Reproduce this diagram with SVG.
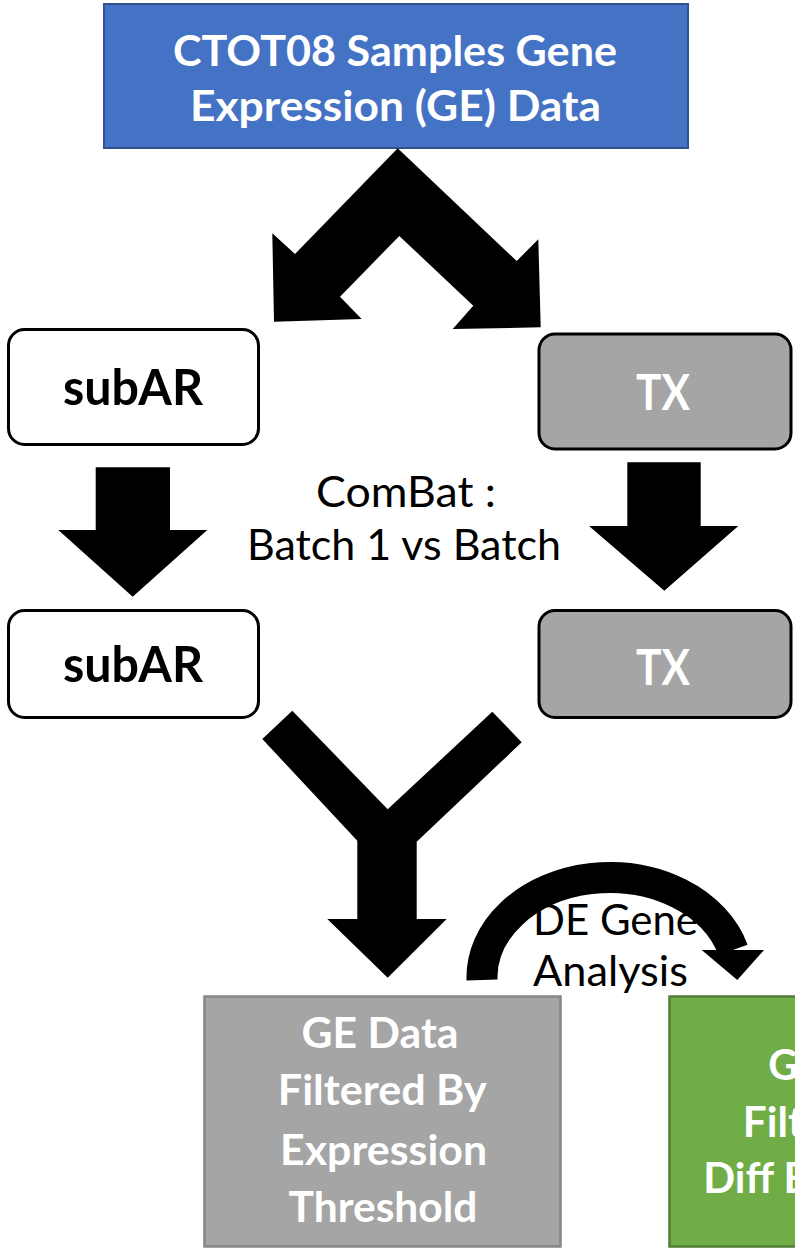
<svg xmlns="http://www.w3.org/2000/svg" width="795" height="1249" viewBox="0 0 795 1249">
  <style>
    .bold { font-family: Lato, "Open Sans", "Liberation Sans", sans-serif; font-weight: bold; }
    .reg { font-family: Lato, "Open Sans", "Liberation Sans", sans-serif; font-weight: normal; fill: #000; }
    .big { font-size: 42px; }
    .mid { font-size: 49px; }
    .txt { font-size: 43px; }
    .white { fill: #fff; }
    .black { fill: #000; }
    .rounded { stroke: #000; stroke-width: 3; }
    .grey { fill: #A5A5A5; }
    .arrow { fill: #000; }
  </style>

  <!-- source data -->
  <g id="node-source">
    <rect x="104" y="4" width="584" height="144" fill="#4472C4" stroke="#2F528F" stroke-width="2"/>
    <text class="bold big white" x="395" y="66" text-anchor="middle" textLength="444" lengthAdjust="spacingAndGlyphs">CTOT08 Samples Gene</text>
    <text class="bold big white" x="395.5" y="121" text-anchor="middle" textLength="411" lengthAdjust="spacingAndGlyphs">Expression (GE) Data</text>
  </g>

  <!-- cohorts before batch correction -->
  <g id="node-subar-1">
    <rect class="rounded" x="8.5" y="329.5" width="250" height="115" rx="16" fill="#fff"/>
    <text class="bold mid black" x="133" y="405" text-anchor="middle" textLength="140" lengthAdjust="spacingAndGlyphs">subAR</text>
  </g>
  <g id="node-tx-1">
    <rect class="rounded grey" x="539" y="334" width="252" height="115" rx="16"/>
    <text class="bold mid white" x="663" y="410" text-anchor="middle" textLength="54" lengthAdjust="spacingAndGlyphs">TX</text>
  </g>

  <!-- cohorts after batch correction -->
  <g id="node-subar-2">
    <rect class="rounded" x="8.5" y="610.5" width="250" height="107" rx="16" fill="#fff"/>
    <text class="bold mid black" x="133" y="682" text-anchor="middle" textLength="140" lengthAdjust="spacingAndGlyphs">subAR</text>
  </g>
  <g id="node-tx-2">
    <rect class="rounded grey" x="539" y="610.5" width="252" height="107" rx="16"/>
    <text class="bold mid white" x="663" y="685" text-anchor="middle" textLength="54" lengthAdjust="spacingAndGlyphs">TX</text>
  </g>

  <!-- filtered outputs -->
  <g id="node-filtered-expression">
    <rect x="204.5" y="996.5" width="356" height="250" fill="#A5A5A5" stroke="#868686" stroke-width="2.5"/>
    <text class="bold big white" x="380" y="1048" text-anchor="middle" textLength="157" lengthAdjust="spacingAndGlyphs">GE Data</text>
    <text class="bold big white" x="382.3" y="1105" text-anchor="middle" textLength="209" lengthAdjust="spacingAndGlyphs">Filtered By</text>
    <text class="bold big white" x="383.6" y="1165" text-anchor="middle" textLength="207" lengthAdjust="spacingAndGlyphs">Expression</text>
    <text class="bold big white" x="383" y="1222" text-anchor="middle" textLength="189" lengthAdjust="spacingAndGlyphs">Threshold</text>
  </g>
  <g id="node-filtered-de">
    <rect x="669.5" y="996.5" width="356" height="250" fill="#70AD47" stroke="#507E32" stroke-width="2.5"/>
    <text class="bold big white" x="768.3" y="1080" textLength="29.7" lengthAdjust="spacingAndGlyphs">G</text>
    <text class="bold big white" x="742.7" y="1137" textLength="61" lengthAdjust="spacingAndGlyphs">Filt</text>
    <text class="bold big white" x="703.3" y="1193" textLength="104.4" lengthAdjust="spacingAndGlyphs">Diff E</text>
  </g>

  <!-- connectors -->
  <g id="connectors">
    <!-- split into two cohorts -->
    <polygon class="arrow" points="397.7,148.3 295,254 272.3,233.3 274,321.7 361.7,319 340,296.7 399.3,236 473.3,305.7 452.7,329 540.7,327.3 538.3,239.3 516.7,261"/>
    <!-- ComBat correction -->
    <polygon class="arrow" points="95.7,467.3 170,467.3 170,530 207.3,530 132.7,596.7 58.3,530 95.7,530"/>
    <polygon class="arrow" points="627.3,462.3 700.7,462.3 700.7,526 738.3,526 664.3,590.7 589,526 627.3,526"/>
    <text class="reg txt" x="406" y="507" text-anchor="middle" textLength="180" lengthAdjust="spacingAndGlyphs">ComBat :</text>
    <text class="reg txt" x="404" y="560" text-anchor="middle" textLength="314" lengthAdjust="spacingAndGlyphs">Batch 1 vs Batch</text>
    <!-- merge -->
    <polygon class="arrow" points="262.3,739 292.3,710.7 387.7,809.3 492.3,711.7 521.7,742.3 416.7,841.7 416.7,919 446.7,919 387.7,977.7 327.3,919 357.3,919 357.3,840.7"/>
    <!-- DE gene analysis -->
    <path d="M 482 980 A 128 100 0 0 1 733 950" fill="none" stroke="#000" stroke-width="31"/>
    <polygon class="arrow" points="701.7,950 764,950 737.3,980"/>
    <text class="reg txt" x="533" y="935" textLength="165" lengthAdjust="spacingAndGlyphs">DE Gene</text>
    <text class="reg txt" x="533" y="986" textLength="155" lengthAdjust="spacingAndGlyphs">Analysis</text>
  </g>
</svg>
